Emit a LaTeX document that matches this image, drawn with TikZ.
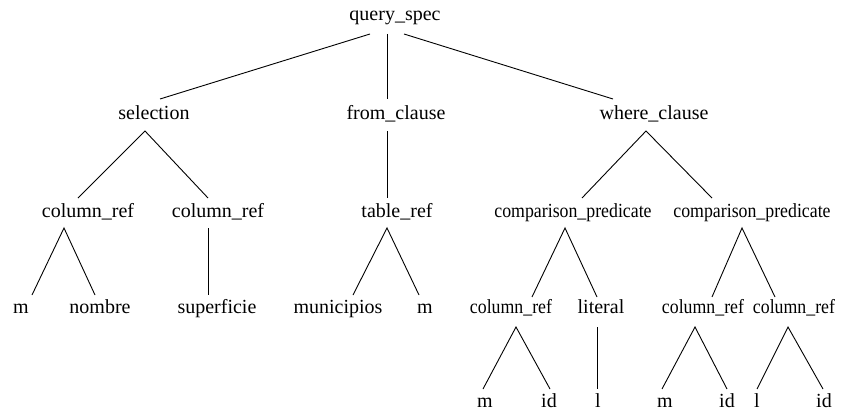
\documentclass[tikz,border=0pt]{standalone}
\usepackage{fontspec}
\usepackage{graphicx}
\setmainfont{Liberation Serif}
\tikzset{
  lbl/.style={inner sep=0pt, anchor=base, font=\fontsize{20}{24}\selectfont},
  edge/.style={draw=black, line width=0.9pt},
}
\newcommand{\narrow}[1]{\scalebox{0.89}[1]{#1}}
\begin{document}
\begin{tikzpicture}[x=1pt, y=-1pt]
\useasboundingbox (0,0) rectangle (844,412);
% level 0
\node[lbl] (qs) at (395,21) {query\_spec};
% level 1
\node[lbl] (sel) at (154,120) {selection};
\node[lbl] (fc) at (396,120) {from\_clause};
\node[lbl] (wc) at (654,120) {where\_clause};
% level 2
\node[lbl] (crA) at (88,217) {column\_ref};
\node[lbl] (crB) at (218,217) {column\_ref};
\node[lbl] (tr) at (397,217) {table\_ref};
\node[lbl] (cp1) at (573,217) {\narrow{comparison\_predicate}};
\node[lbl] (cp2) at (752,217) {\narrow{comparison\_predicate}};
% level 3
\node[lbl] (m1) at (21,313) {m};
\node[lbl] (nom) at (100,313) {nombre};
\node[lbl] (sup) at (217,313) {superficie};
\node[lbl] (mun) at (338,313) {municipios};
\node[lbl] (m2) at (425,313) {m};
\node[lbl] (crC) at (511,313) {\narrow{column\_ref}};
\node[lbl] (lit) at (601,313) {literal};
\node[lbl] (crD) at (703,313) {\narrow{column\_ref}};
\node[lbl] (crE) at (794,313) {\narrow{column\_ref}};
% level 4
\node[lbl] (m3) at (485,407) {m};
\node[lbl] (id1) at (549,407) {id};
\node[lbl] (l1) at (598,407) {l};
\node[lbl] (m4) at (665,407) {m};
\node[lbl] (id2) at (727,407) {id};
\node[lbl] (l2) at (757,407) {l};
\node[lbl] (id3) at (824,407) {id};
% edges
\draw[edge] ([shift={(-25,13)}]qs.base) -- ([shift={(6,-21)}]sel.base);
\draw[edge] ([shift={(-8,13)}]qs.base) -- ([shift={(-9,-21)}]fc.base);
\draw[edge] ([shift={(9,13)}]qs.base) -- ([shift={(-41,-21)}]wc.base);
\draw[edge] ([shift={(-10,-19)}]crA.base) -- ([shift={(-9,11)}]sel.base) -- ([shift={(-10,-19)}]crB.base);
\draw[edge] ([shift={(-9,11)}]fc.base) -- ([shift={(-10,-19)}]tr.base);
\draw[edge] ([shift={(9,-19)}]cp1.base) -- ([shift={(-8,11)}]wc.base) -- ([shift={(-40,-19)}]cp2.base);
\draw[edge] ([shift={(11,-18)}]m1.base) -- ([shift={(-24,11)}]crA.base) -- ([shift={(-5,-18)}]nom.base);
\draw[edge] ([shift={(-10,11)}]crB.base) -- ([shift={(-9,-18)}]sup.base);
\draw[edge] ([shift={(15,-18)}]mun.base) -- ([shift={(-10,11)}]tr.base) -- ([shift={(-6,-18)}]m2.base);
\draw[edge] ([shift={(21,-16)}]crC.base) -- ([shift={(-8,11)}]cp1.base) -- ([shift={(-4,-16)}]lit.base);
\draw[edge] ([shift={(9,-16)}]crD.base) -- ([shift={(-10,11)}]cp2.base) -- ([shift={(-19,-16)}]crE.base);
\draw[edge] ([shift={(-2,-18)}]m3.base) -- ([shift={(5,14)}]crC.base) -- ([shift={(1,-18)}]id1.base);
\draw[edge] ([shift={(-4,14)}]lit.base) -- ([shift={(-1,-18)}]l1.base);
\draw[edge] ([shift={(-3,-18)}]m4.base) -- ([shift={(-8,14)}]crD.base) -- ([shift={(0,-18)}]id2.base);
\draw[edge] ([shift={(0,-18)}]l2.base) -- ([shift={(-6,14)}]crE.base) -- ([shift={(-1,-18)}]id3.base);
\end{tikzpicture}
\end{document}
